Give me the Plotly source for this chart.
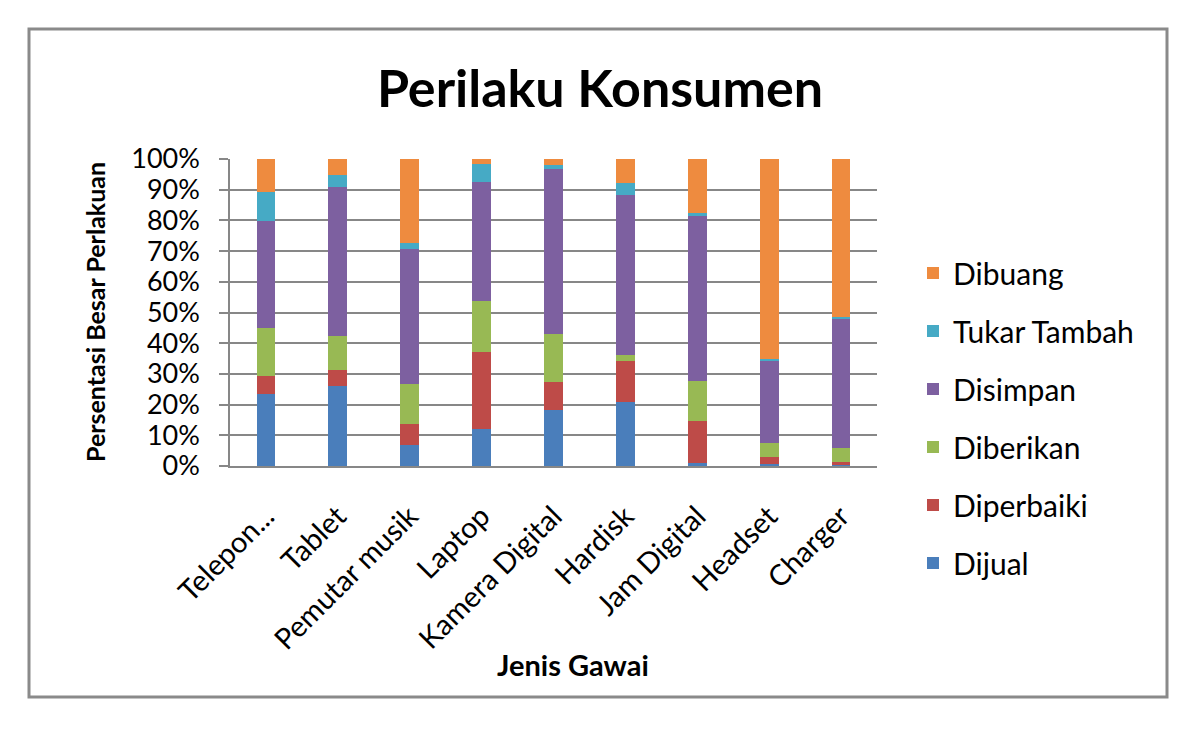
import plotly.graph_objects as go

categories = ["Telepon...", "Tablet", "Pemutar musik", "Laptop", "Kamera Digital",
              "Hardisk", "Jam Digital", "Headset", "Charger"]

dijual      = [23.4, 26.2,  7.0, 12.0, 18.3, 21.0,  1.1,  0.5,  0.2]
diperbaiki  = [ 5.9,  5.1,  6.7, 25.2,  9.0, 13.2, 13.6,  2.5,  1.2]
diberikan   = [15.6, 11.2, 13.1, 16.4, 15.6,  2.0, 13.1,  4.4,  4.6]
disimpan    = [35.0, 48.5, 43.9, 38.9, 53.9, 52.0, 53.5, 26.9, 41.9]
tukar       = [ 9.2,  3.9,  1.9,  6.0,  1.1,  3.9,  1.0,  0.5,  0.5]
dibuang     = [10.9,  5.1, 27.4,  1.5,  2.1,  7.9, 17.7, 65.2, 51.6]

series = [
    ("Dijual", dijual, "#4A7EBB"),
    ("Diperbaiki", diperbaiki, "#BE4B48"),
    ("Diberikan", diberikan, "#98B954"),
    ("Disimpan", disimpan, "#7D60A0"),
    ("Tukar Tambah", tukar, "#46AAC5"),
    ("Dibuang", dibuang, "#EE8B3F"),
]

FONT = "Lato, 'Open Sans', sans-serif"

fig = go.Figure()
n = len(series)
for i, (name, vals, col) in enumerate(series):
    fig.add_trace(go.Bar(
        x=categories, y=vals, name=name, marker=dict(color=col, line=dict(width=0)),
        width=0.26, legendgroup=name, legendrank=n - i,
    ))

# plot area in pixels: x 230..877, y 159..466
L, R, T, B = 230, 877, 159, 466
W, H = 1198, 730
pw, ph = R - L, B - T

def px(x):
    return (x - L) / pw

def py(y):
    return (B - y) / ph

fig.update_layout(
    width=W, height=H,
    margin=dict(l=L, r=W - R, t=T, b=H - B, pad=0),
    barmode="stack",
    paper_bgcolor="white", plot_bgcolor="white",
    font=dict(family=FONT, size=27, color="#000000"),
    showlegend=True,
    legend=dict(
        x=px(913), y=py(247), xanchor="left", yanchor="top",
        traceorder="grouped", tracegroupgap=16, maxheight=600,
        font=dict(family=FONT, size=30, color="#000000"),
        itemwidth=30, bgcolor="rgba(0,0,0,0)",
    ),
    title=dict(
        text="<b>Perilaku Konsumen</b>", x=600 / W, xref="container", xanchor="center",
        y=1 - 89 / H, yanchor="middle",
        font=dict(family=FONT, size=52, color="#000000"),
    ),
    xaxis=dict(
        tickangle=-45, showgrid=False, showline=True, linecolor="#878787", linewidth=1.5,
        ticks="", tickfont=dict(family=FONT, size=29, color="#000000"),
        ticklabelstandoff=20,
        range=[-0.5, 8.5],
    ),
    yaxis=dict(
        range=[0, 100], tickvals=[0, 10, 20, 30, 40, 50, 60, 70, 80, 90, 100],
        ticktext=[f"{v}%" for v in range(0, 101, 10)],
        showgrid=True, gridcolor="#878787", gridwidth=1.5,
        showline=True, linecolor="#878787", linewidth=1.5,
        ticks="outside", ticklen=9, tickcolor="#878787", tickwidth=1.5,
        ticklabelstandoff=14,
        tickfont=dict(family=FONT, size=27, color="#000000"),
        zeroline=False,
    ),
    annotations=[
        dict(text="<b>Persentasi Besar Perlakuan</b>", textangle=-90,
             x=px(95), y=py(312), xref="paper", yref="paper",
             xanchor="center", yanchor="middle", showarrow=False,
             font=dict(family=FONT, size=25, color="#000000")),
        dict(text="<b>Jenis Gawai</b>",
             x=px(573), y=py(664), xref="paper", yref="paper",
             xanchor="center", yanchor="middle", showarrow=False,
             font=dict(family=FONT, size=29, color="#000000")),
    ],
    shapes=[
        dict(type="rect", xref="paper", yref="paper",
             x0=px(29), x1=px(1167), y0=py(697), y1=py(29),
             line=dict(color="#8a8a8a", width=3), fillcolor="rgba(0,0,0,0)", layer="below"),
    ],
)

fig.write_html("out.html")
